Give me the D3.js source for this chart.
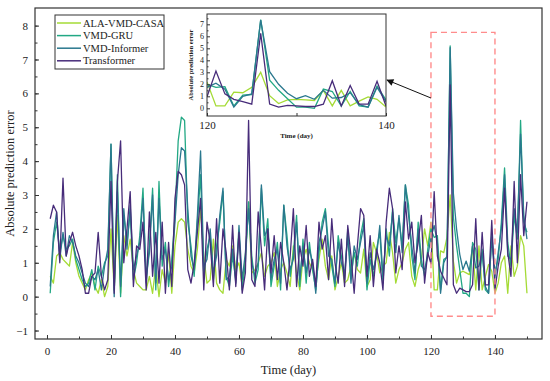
<!DOCTYPE html>
<html>
<head>
<meta charset="utf-8">
<script src="https://cdn.jsdelivr.net/npm/d3@7"></script>
<style>
  body { margin: 0; background: #fff; }
  text { font-family: "Liberation Serif", "Times New Roman", serif; fill: #222; }
</style>
</head>
<body>
<svg id="chart" width="550" height="381"></svg>
<script>
// days 1..150
const days = d3.range(1, 151);

const seriesNames = ['ALA-VMD-CASA', 'VMD-GRU', 'VMD-Informer', 'Transformer'];
const seriesColors = ['#a5db36', '#22a884', '#2a788e', '#472c7a'];

const alaVmdCasa = [
  0.6, 0.4, 1.2, 1.3, 1.1, 1.0, 0.9, 1.6, 1.0, 0.6,
  0.4, 0.2, 0.5, 0.7, 0.3, 0.1, 0.5, 0.0, 0.3, 2.0,
  0.2, 2.4, 0.1, 1.8, 1.2, 1.7, 0.8, 0.4, 0.3, 0.2,
  0.2, 0.6, 0.1, 0.9, 0.0, 0.8, 0.4, 1.3, 0.1, 1.5,
  2.2, 2.3, 2.2, 1.4, 0.9, 0.7, 1.4, 2.6, 1.2, 0.4,
  0.5, 1.7, 0.4, 0.2, 0.1, 1.1, 0.9, 1.5, 0.8, 1.0,
  0.3, 1.2, 2.8, 0.7, 0.8, 1.0, 1.3, 0.6, 0.9, 1.0,
  1.3, 0.3, 0.8, 1.0, 0.7, 0.3, 1.5, 0.7, 0.2, 1.1,
  1.4, 1.0, 0.8, 0.4, 1.1, 1.7, 0.9, 0.5, 1.2, 0.2,
  0.6, 1.0, 0.4, 0.5, 0.9, 1.3, 0.8, 0.7, 1.4, 0.3,
  0.5, 1.6, 1.3, 0.7, 0.9, 1.0, 1.9, 1.3, 0.4, 0.8,
  1.0, 1.4, 1.6, 0.6, 0.3, 0.8, 1.1, 2.0, 1.5, 2.2,
  0.2, 0.2, 1.35, 1.3, 1.75, 3.0, 1.05, 0.4, 0.7, 0.75,
  0.7, 0.65, 1.5, 0.2, 1.5, 0.2, 0.6, 0.95, 0.75, 0.1,
  0.4, 1.0, 1.2, 0.1, 1.5, 0.6, 0.9, 1.8, 1.5, 0.1
];

const vmdGru = [
  0.1, 1.6, 2.2, 1.3, 1.8, 1.4, 1.5, 1.7, 1.1, 0.8,
  0.5, 0.3, 0.4, 0.8, 0.2, 0.9, 0.6, 1.0, 1.2, 4.5,
  0.2, 3.6, 0.0, 2.4, 1.6, 2.5, 0.5, 1.0, 1.8, 3.2,
  0.4, 1.5, 3.2, 0.2, 3.4, 0.9, 1.6, 0.3, 1.1, 2.4,
  4.6, 5.3, 5.2, 2.2, 1.5, 0.6, 2.2, 3.6, 0.6, 1.4,
  1.8, 0.5, 1.5, 2.2, 3.1, 0.6, 0.3, 1.2, 0.5, 1.9,
  0.2, 1.0, 2.8, 1.2, 0.4, 0.8, 3.2, 1.5, 2.3, 0.3,
  0.9, 1.6, 0.2, 2.7, 1.8, 0.6, 1.3, 2.4, 0.3, 1.7,
  0.4, 1.6, 0.8, 0.2, 1.3, 2.2, 2.6, 1.5, 0.9, 0.3,
  1.8, 1.2, 0.5, 2.0, 0.6, 1.3, 0.9, 1.8, 2.3, 0.2,
  1.1, 0.6, 1.4, 1.9, 0.4, 2.0, 1.2, 2.6, 1.6, 2.3,
  1.5, 3.3, 2.7, 1.2, 0.5, 2.2, 1.1, 0.6, 1.4, 2.0,
  1.75, 1.8, 0.2, 1.1, 1.15, 7.4, 2.35, 1.5, 0.8, 0.1,
  0.1, 0.0, 1.6, 1.4, 0.2, 1.4, 0.2, 0.1, 1.85, 0.7,
  1.1, 2.2, 3.8, 1.6, 0.9, 2.4, 1.7, 5.2, 2.2, 1.9
];

const vmdInformer = [
  0.3, 1.8, 2.5, 1.1, 1.9, 1.2, 1.8, 1.6, 1.2, 1.0,
  0.7, 0.4, 0.3, 0.6, 0.5, 0.8, 0.2, 0.9, 1.4, 4.5,
  0.0, 3.1, 0.3, 2.6, 1.4, 2.7, 0.8, 1.2, 1.6, 2.9,
  0.6, 1.3, 3.0, 0.4, 2.9, 1.1, 1.4, 0.5, 0.9, 2.2,
  3.6, 4.4, 4.3, 2.6, 1.2, 0.8, 2.4, 4.3, 0.9, 1.1,
  2.0, 0.7, 1.2, 2.4, 3.2, 0.5, 0.6, 1.4, 0.4, 2.1,
  0.5, 1.3, 2.6, 1.0, 0.6, 1.0, 3.3, 1.8, 2.0, 0.5,
  1.1, 1.4, 0.4, 2.7, 1.5, 0.8, 1.1, 2.2, 0.5, 1.5,
  0.7, 1.4, 1.0, 0.1, 1.6, 2.0, 2.5, 1.2, 1.1, 0.4,
  1.6, 1.0, 0.7, 1.8, 0.4, 1.5, 1.1, 1.6, 2.1, 0.4,
  1.3, 0.8, 1.2, 2.1, 0.6, 1.8, 1.5, 2.5, 1.3, 2.4,
  1.3, 3.3, 2.4, 1.5, 0.7, 2.0, 0.9, 0.8, 1.2, 1.75,
  2.1, 1.6, 0.1, 1.0, 1.2, 7.35, 3.05, 2.0, 1.25, 0.8,
  1.05, 0.75, 1.5, 0.85, 0.9, 1.3, 0.3, 0.1, 1.75, 0.55,
  1.3, 2.0, 3.6, 1.2, 1.1, 2.6, 1.9, 4.8, 2.4, 1.7
];

const transformer = [
  2.3, 2.7, 2.5, 1.0, 3.5, 1.2, 1.6, 1.9, 1.5, 1.2,
  0.8, 0.1, 0.1, 0.6, 0.7, 1.9, 0.6, 0.2, 0.5, 3.4,
  0.1, 3.4, 4.6, 1.0, 2.0, 3.1, 0.3, 1.5, 1.4, 2.2,
  0.2, 2.5, 0.6, 1.9, 0.4, 2.2, 0.1, 1.6, 0.3, 2.9,
  3.7, 3.6, 3.3, 0.8, 0.4, 1.0, 1.9, 2.9, 0.2, 2.2,
  1.6, 0.3, 2.3, 0.4, 2.0, 1.3, 0.2, 2.1, 0.3, 1.9,
  0.1, 0.7, 5.2, 0.5, 0.3, 2.5, 1.4, 0.2, 2.0, 0.7,
  1.8, 0.5, 1.6, 1.0, 0.2, 1.2, 2.6, 0.3, 1.5, 0.9,
  2.1, 0.6, 1.1, 0.3, 2.2, 1.4, 1.8, 0.5, 2.3, 1.0,
  0.4, 1.7, 0.3, 2.1, 1.2, 0.1, 1.5, 2.6, 2.4, 0.6,
  1.8, 0.3, 1.4, 1.0, 0.2, 2.2, 3.2, 2.6, 0.7, 1.5,
  0.8, 2.8, 1.7, 2.2, 1.0, 1.6, 2.4, 0.4, 1.3, 0.97,
  3.1, 1.2, 0.75, 0.55, 0.35, 6.25, 0.35, 0.1, 0.25, 0.2,
  0.15, 0.15, 0.35, 2.3, 0.2, 1.9, 0.35, 0.35, 2.25, 0.2,
  0.9, 1.4, 3.2, 1.3, 0.6, 3.4, 1.0, 3.6, 1.8, 2.8
];

const allSeries = [alaVmdCasa, vmdGru, vmdInformer, transformer];

const xTicks = [0, 20, 40, 60, 80, 100, 120, 140];
const yTicks = [-1, 0, 1, 2, 3, 4, 5, 6, 7, 8];
const zoomRange = [120, 140];
const insetYTicks = [0, 1, 2, 3, 4, 5, 6, 7];

const svg = d3.select('#chart');

// main plot area
const pL = 35, pR = 542, pT = 8, pB = 339;

const x = d3.scaleLinear().domain([-3.75, 154.7]).range([pL, pR]);
const y = d3.scaleLinear().domain([-1.25, 8.52]).range([pB, pT]);

const line = d3.line()
    .x((d, i) => x(days[i]))
    .y(d => y(d));

svg.append('clipPath').attr('id', 'mainClip')
  .append('rect')
    .attr('x', pL).attr('y', pT)
    .attr('width', pR - pL).attr('height', pB - pT);

const lines = svg.append('g').attr('clip-path', 'url(#mainClip)');
allSeries.forEach((s, k) => {
  lines.append('path')
      .datum(s)
      .attr('fill', 'none')
      .attr('stroke', seriesColors[k])
      .attr('stroke-width', 1.3)
      .attr('stroke-linejoin', 'round')
      .attr('d', line);
});

// axes (ticks pointing inside)
const xAxis = d3.axisBottom(x).tickValues(xTicks).tickSizeInner(-4).tickSizeOuter(0).tickPadding(8);
const xMinor = d3.axisBottom(x).tickValues(d3.range(0, 151, 10)).tickSizeInner(-2.5).tickSizeOuter(0).tickFormat('');
const yAxis = d3.axisLeft(y).tickValues(yTicks).tickSizeInner(-4).tickSizeOuter(0).tickPadding(7);
const yMinor = d3.axisLeft(y).tickValues(d3.range(-1, 8.01, 0.5)).tickSizeInner(-2.5).tickSizeOuter(0).tickFormat('');

function styleAxis(g, size) {
  g.select('.domain').remove();
  g.selectAll('line').attr('stroke', '#333');
  g.selectAll('text').style('font-size', size + 'px').style('font-family', '"Liberation Serif", serif').attr('fill', '#222');
}

svg.append('g').attr('transform', `translate(0,${pB})`).call(xMinor).call(g => styleAxis(g, 11));
svg.append('g').attr('transform', `translate(0,${pB})`).call(xAxis).call(g => styleAxis(g, 11));
svg.append('g').attr('transform', `translate(${pL},0)`).call(yMinor).call(g => styleAxis(g, 11));
svg.append('g').attr('transform', `translate(${pL},0)`).call(yAxis).call(g => styleAxis(g, 11));

svg.append('rect')
    .attr('x', pL).attr('y', pT)
    .attr('width', pR - pL).attr('height', pB - pT)
    .attr('fill', 'none').attr('stroke', '#333').attr('stroke-width', 1.2);

svg.append('text')
    .attr('x', (pL + pR) / 2).attr('y', 374)
    .attr('text-anchor', 'middle')
    .style('font-size', '12.5px')
    .text('Time (day)');

svg.append('text')
    .attr('transform', `translate(14,${(pT + pB) / 2}) rotate(-90)`)
    .attr('text-anchor', 'middle')
    .style('font-size', '12.5px')
    .text('Absolute prediction error');

// red dashed zoom box
svg.append('rect')
    .attr('x', x(zoomRange[0])).attr('y', y(7.8))
    .attr('width', x(zoomRange[1]) - x(zoomRange[0]))
    .attr('height', y(-0.58) - y(7.8))
    .attr('fill', 'none')
    .attr('stroke', '#ff8c8c')
    .attr('stroke-width', 1.4)
    .attr('stroke-dasharray', '6,4');

// legend
const legend = svg.append('g').attr('transform', 'translate(55,15)');
legend.append('rect')
    .attr('width', 109).attr('height', 54)
    .attr('fill', '#fff').attr('stroke', '#333').attr('stroke-width', 1);
seriesNames.forEach((name, k) => {
  const g = legend.append('g').attr('transform', `translate(0,${8 + k * 12.6})`);
  g.append('line').attr('x1', 2).attr('x2', 26).attr('stroke', seriesColors[k]).attr('stroke-width', 1.5);
  g.append('text').attr('x', 28).attr('dy', '0.35em').style('font-size', '10.5px').text(name);
});

// inset
const iL = 207, iR = 386, iT = 14, iB = 116;
const ix = d3.scaleLinear().domain(zoomRange).range([iL, iR]);
const iy = d3.scaleLinear().domain([-0.64, 7.86]).range([iB, iT]);

const inset = svg.append('g');
inset.append('rect')
    .attr('x', iL).attr('y', iT).attr('width', iR - iL).attr('height', iB - iT)
    .attr('fill', '#fff');

svg.append('clipPath').attr('id', 'insetClip')
  .append('rect').attr('x', iL).attr('y', iT).attr('width', iR - iL).attr('height', iB - iT);

const iLine = d3.line()
    .defined((d, i) => days[i] >= zoomRange[0] && days[i] <= zoomRange[1])
    .x((d, i) => ix(days[i]))
    .y(d => iy(d));

const insetLines = inset.append('g').attr('clip-path', 'url(#insetClip)');
allSeries.forEach((s, k) => {
  insetLines.append('path')
      .datum(s)
      .attr('fill', 'none')
      .attr('stroke', seriesColors[k])
      .attr('stroke-width', 1.3)
      .attr('d', iLine);
});

const ixAxis = d3.axisBottom(ix).tickValues([120, 140]).tickSizeInner(-3).tickSizeOuter(0).tickPadding(5);
const ixMid = d3.axisBottom(ix).tickValues([130]).tickSizeInner(-3).tickSizeOuter(0).tickFormat('');
const iyAxis = d3.axisLeft(iy).tickValues(insetYTicks).tickSizeInner(-3).tickSizeOuter(0).tickPadding(3);
const iyMinor = d3.axisLeft(iy).tickValues(d3.range(0.5, 7.6, 1)).tickSizeInner(-1.5).tickSizeOuter(0).tickFormat('');

inset.append('g').attr('transform', `translate(0,${iB})`).call(ixAxis).call(g => styleAxis(g, 11));
inset.append('g').attr('transform', `translate(0,${iB})`).call(ixMid).call(g => styleAxis(g, 11));
inset.append('g').attr('transform', `translate(${iL},0)`).call(iyAxis).call(g => styleAxis(g, 8));
inset.append('g').attr('transform', `translate(${iL},0)`).call(iyMinor).call(g => styleAxis(g, 8));

inset.append('rect')
    .attr('x', iL).attr('y', iT).attr('width', iR - iL).attr('height', iB - iT)
    .attr('fill', 'none').attr('stroke', '#333').attr('stroke-width', 1);

inset.append('text')
    .attr('x', (iL + iR) / 2).attr('y', 138)
    .attr('text-anchor', 'middle')
    .style('font-size', '7px').style('font-weight', 'bold')
    .text('Time (day)');

inset.append('text')
    .attr('transform', `translate(193,${(iT + iB) / 2}) rotate(-90)`)
    .attr('text-anchor', 'middle')
    .style('font-size', '6.5px').style('font-weight', 'bold')
    .text('Absolute prediction error');

// arrow from box to inset
svg.append('defs').append('marker')
    .attr('id', 'arrowHead')
    .attr('viewBox', '0 0 10 10')
    .attr('refX', 9).attr('refY', 5)
    .attr('markerWidth', 9).attr('markerHeight', 7)
    .attr('orient', 'auto')
  .append('path')
    .attr('d', 'M0,0 L10,5 L0,10 z')
    .attr('fill', '#111');

svg.append('line')
    .attr('x1', x(zoomRange[0])).attr('y1', 98)
    .attr('x2', iR + 1).attr('y2', 80)
    .attr('stroke', '#111').attr('stroke-width', 1)
    .attr('marker-end', 'url(#arrowHead)');
</script>
</body>
</html>
